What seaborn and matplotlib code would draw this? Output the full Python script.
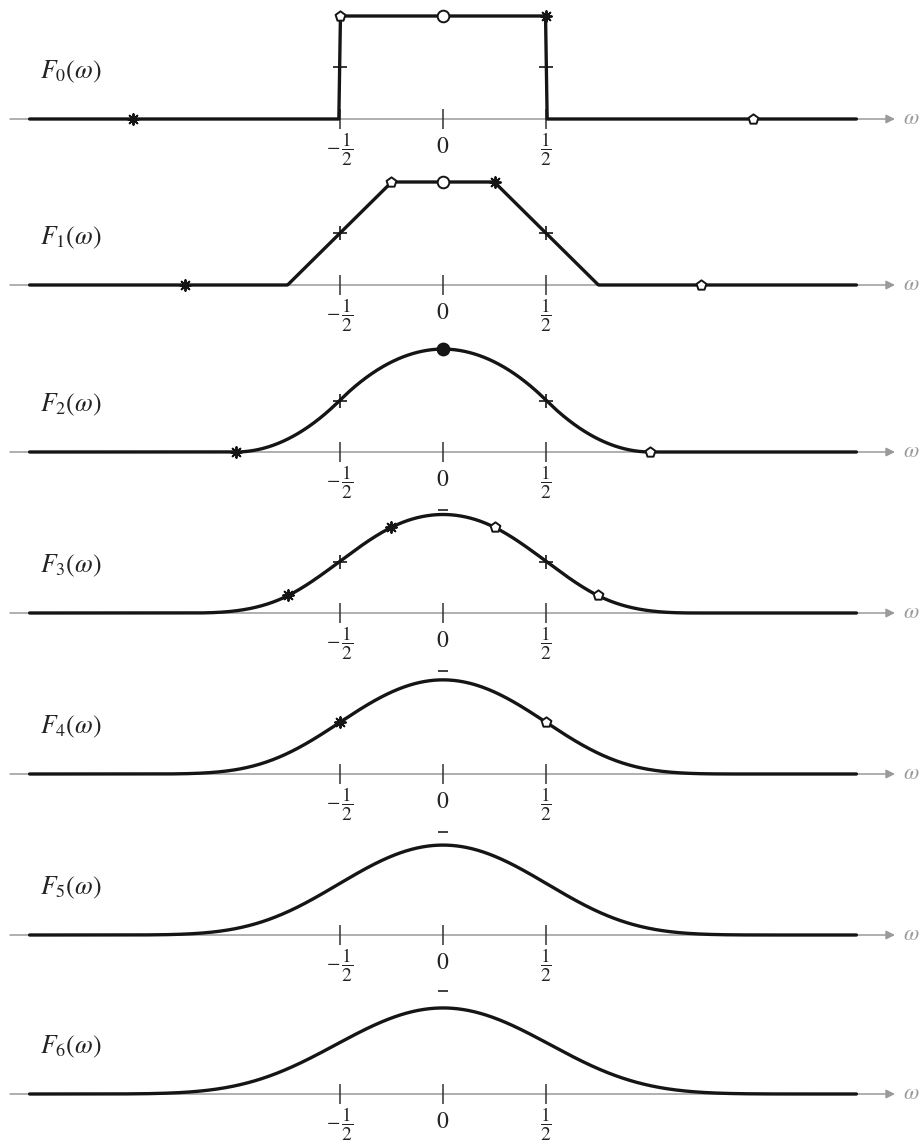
import numpy as np
import matplotlib
matplotlib.use("Agg")
import matplotlib.pyplot as plt
import seaborn as sns

# F0 is the box on [-1/2, 1/2]; every next level is smoothed by a box of width 1/2
box_half_width = 0.5
kernel_half_width = 0.25
levels = [0, 1, 2, 3, 4, 5, 6]
omega_span = [-2.0, 2.0]
tick_positions = [-0.5, 0.0, 0.5]
tick_labels = [r"$-\,\dfrac{1}{2}$", r"$0$", r"$\dfrac{1}{2}$"]

# marker positions on the omega axis, one list per level
plus_omega = [[-0.5, 0.5], [-0.5, 0.5], [-0.5, 0.5], [-0.5, 0.5], [], [], []]
star_omega = [[-1.5, 0.5], [-1.25, 0.25], [-1.0], [-0.75, -0.25], [-0.5], [], []]
pentagon_omega = [[-0.5, 1.5], [-0.25, 1.25], [1.0], [0.25, 0.75], [0.5], [], []]
open_circle_omega = [[0.0], [0.0], [], [], [], [], []]
filled_circle_omega = [[], [], [0.0], [], [], [], []]

# pixel layout of the reference (baseline of each panel, px from top)
baseline_px = [119, 285, 452, 613, 774, 935, 1094]
W, H = 923, 1146
x0_px, unit_x = 443.0, 206.7
unit_y = 103.0
y_lo, y_hi = -0.6, 1.2

# ---- build the functions
h = 1.0 / 256
omega = np.arange(-640, 641) * h
f = np.where(np.abs(omega) < box_half_width, 1.0, 0.0)
f[np.isclose(np.abs(omega), box_half_width)] = 0.5
m = int(round(kernel_half_width / h))
kernel = np.ones(2 * m + 1) / (2 * m + 1)
curves = [f]
for k in levels[1:]:
    curves.append(np.convolve(curves[-1], kernel, mode="same"))

def value_at(F, pts, inward=False):
    pts = np.asarray(pts, dtype=float)
    if inward:
        pts = pts - np.sign(pts) * h
    return np.interp(pts, omega, F)

sns.set_theme(style="white")
plt.rcParams["mathtext.fontset"] = "stix"
plt.rcParams["font.family"] = ["STIXGeneral", "DejaVu Sans"]

fig = plt.figure(figsize=(W / 100, H / 100), dpi=100)
xl = (-x0_px / unit_x, (W - x0_px) / unit_x)
ink = "#151515"
grey = "#9a9a9a"

for k in levels:
    F = curves[k]
    top_px = baseline_px[k] - y_hi * unit_y
    ax_h = (y_hi - y_lo) * unit_y
    ax = fig.add_axes([0, 1 - (top_px + ax_h) / H, 1, ax_h / H])
    ax.set_xlim(*xl)
    ax.set_ylim(y_lo, y_hi)
    ax.set_axis_off()

    # grey omega axis with arrow
    ax.annotate("", xy=((895 - x0_px) / unit_x, 0), xytext=((10 - x0_px) / unit_x, 0),
                arrowprops=dict(arrowstyle="-|>", color=grey, lw=1.1,
                                mutation_scale=13, shrinkA=0, shrinkB=0), zorder=1)
    ax.text((903 - x0_px) / unit_x, 0, r"$\omega$", color=grey, fontsize=16,
            ha="left", va="center")

    # ticks and labels
    ax.vlines(tick_positions, -0.1, 0.1, color="#333333", lw=1.1, zorder=2)
    ax.hlines(1.0, -0.025, 0.025, color="#333333", lw=1.3, zorder=2)
    for tx, tl in zip(tick_positions, tick_labels):
        if tx == 0:
            ax.text(tx, -0.27, tl, fontsize=17, ha="center", va="center", color="#222222")
        else:
            ax.text(tx, -0.30, tl, fontsize=14, ha="center", va="center", color="#222222")

    ax.text((40 - x0_px) / unit_x, 0.46, rf"$F_{{{k}}}(\omega)$", fontsize=18.5,
            ha="left", va="center", color="#222222")

    mask = (omega >= omega_span[0]) & (omega <= omega_span[1])
    sns.lineplot(x=omega[mask], y=F[mask], ax=ax, color=ink, linewidth=2.4,
                 estimator=None, sort=False, zorder=3)

    if plus_omega[k]:
        sns.scatterplot(x=plus_omega[k], y=value_at(F, plus_omega[k]), ax=ax,
                        marker="+", s=90, color=ink, linewidth=1.2, zorder=5)
    if star_omega[k]:
        sns.scatterplot(x=star_omega[k], y=value_at(F, star_omega[k], True), ax=ax,
                        marker=(8, 2, 0), s=60, color=ink, linewidth=1.4, zorder=5)
    if pentagon_omega[k]:
        sns.scatterplot(x=pentagon_omega[k], y=value_at(F, pentagon_omega[k], True), ax=ax,
                        marker="p", s=55, color="white", edgecolor=ink, linewidth=1.4, zorder=5)
    if open_circle_omega[k]:
        sns.scatterplot(x=open_circle_omega[k], y=value_at(F, open_circle_omega[k]), ax=ax,
                        marker="o", s=70, color="white", edgecolor=ink, linewidth=1.4, zorder=5)
    if filled_circle_omega[k]:
        sns.scatterplot(x=filled_circle_omega[k], y=value_at(F, filled_circle_omega[k]), ax=ax,
                        marker="o", s=80, color=ink, edgecolor=ink, linewidth=1.0, zorder=5)

fig.savefig("out.png", dpi=100, facecolor="white")
